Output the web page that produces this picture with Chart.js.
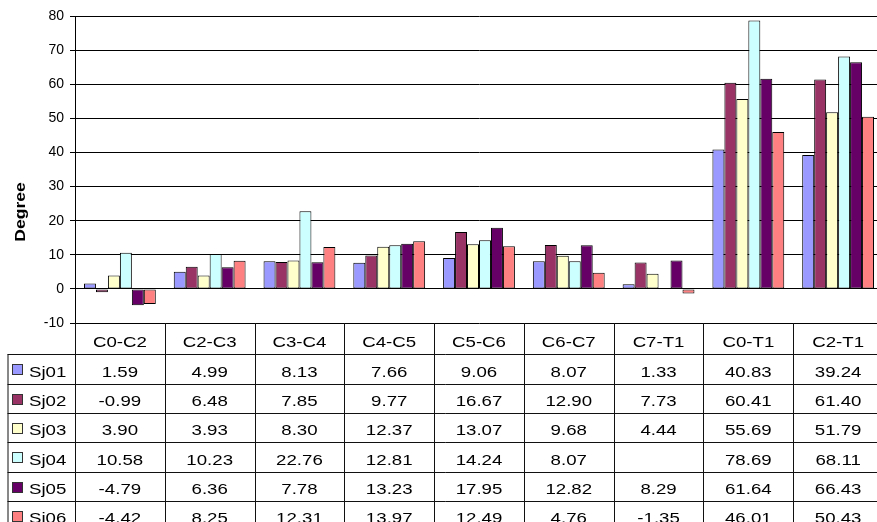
<!DOCTYPE html>
<html>
<head>
<meta charset="utf-8">
<script src="https://cdn.jsdelivr.net/npm/chart.js@4"></script>
<style>
  body { margin: 0; background: #fff; overflow: hidden; }
  #wrap { width: 877px; height: 522px; overflow: hidden; }
</style>
</head>
<body>
<div id="wrap"><canvas id="chart" width="885" height="522"></canvas></div>
<script>
const categories = ["C0-C2","C2-C3","C3-C4","C4-C5","C5-C6","C6-C7","C7-T1","C0-T1","C2-T1"];
const seriesNames = ["Sj01","Sj02","Sj03","Sj04","Sj05","Sj06"];
const sj01 = [1.59, 4.99, 8.13, 7.66, 9.06, 8.07, 1.33, 40.83, 39.24];
const sj02 = [-0.99, 6.48, 7.85, 9.77, 16.67, 12.90, 7.73, 60.41, 61.40];
const sj03 = [3.90, 3.93, 8.30, 12.37, 13.07, 9.68, 4.44, 55.69, 51.79];
const sj04 = [10.58, 10.23, 22.76, 12.81, 14.24, 8.07, null, 78.69, 68.11];
const sj05 = [-4.79, 6.36, 7.78, 13.23, 17.95, 12.82, 8.29, 61.64, 66.43];
const sj06 = [-4.42, 8.25, 12.31, 13.97, 12.49, 4.76, -1.35, 46.01, 50.43];
const colors = ["#9999FF","#993366","#FFFFCC","#CCFFFF","#660066","#FF8080"];
const yTicks = { min: -10, max: 80, step: 10 };

const allSeries = [sj01, sj02, sj03, sj04, sj05, sj06];

// data table + axis title drawn under the plot
const tablePlugin = {
  id: 'table',
  afterDraw(chart) {
    const ctx = chart.ctx;
    const xs = chart.scales.x;
    const left = xs.left, right = xs.right;
    const colW = (right - left) / categories.length;
    const top = chart.chartArea.bottom;
    const headH = 31.3, rowH = 29.3;
    const legLeft = 7.5;

    ctx.save();
    ctx.strokeStyle = '#111';
    ctx.lineWidth = 1;
    ctx.beginPath();
    // vertical lines
    for (let i = 0; i <= categories.length; i++) {
      const x = Math.round(left + i * colW) + 0.5;
      ctx.moveTo(x, top);
      ctx.lineTo(x, 530);
    }
    ctx.moveTo(legLeft + 0.5, top + headH);
    ctx.lineTo(legLeft + 0.5, 530);
    // horizontal lines
    for (let r = 0; r <= seriesNames.length; r++) {
      const y = Math.round(top + headH + r * rowH) + 0.5;
      ctx.moveTo(legLeft, y);
      ctx.lineTo(right, y);
    }
    ctx.stroke();

    const sx = 1.22;
    ctx.fillStyle = '#000';
    ctx.font = '15.3px "Liberation Sans", Arial, sans-serif';
    function txt(s, x, y, align) {
      ctx.save();
      ctx.translate(x, y);
      ctx.scale(sx, 1);
      ctx.textAlign = align || 'center';
      ctx.textBaseline = 'alphabetic';
      ctx.fillText(s, 0, 0);
      ctx.restore();
    }
    categories.forEach((c, i) => {
      txt(c, xs.getPixelForValue(i), top + 24);
    });
    allSeries.forEach((vals, r) => {
      const rt = top + headH + r * rowH;
      vals.forEach((v, i) => {
        if (v === null) return;
        txt(v.toFixed(2), xs.getPixelForValue(i), rt + 22.5);
      });
      // legend key
      ctx.fillStyle = colors[r];
      ctx.fillRect(12.5, Math.round(rt + 10) + 0.5, 10, 10);
      ctx.strokeStyle = '#333';
      ctx.strokeRect(12.5, Math.round(rt + 10) + 0.5, 10, 10);
      ctx.fillStyle = '#000';
      txt(seriesNames[r], 29, rt + 22.5, 'left');
    });

    // y axis title
    ctx.save();
    ctx.translate(24.5, 212);
    ctx.rotate(-Math.PI / 2);
    ctx.scale(1.25, 1);
    ctx.font = 'bold 14px "Liberation Sans", Arial, sans-serif';
    ctx.textAlign = 'center';
    ctx.fillText('Degree', 0, 0);
    ctx.restore();
    ctx.restore();
  }
};

new Chart("chart", {
  type: 'bar',
  data: {
    labels: categories,
    datasets: seriesNames.map((name, i) => ({
      label: name,
      data: allSeries[i],
      backgroundColor: colors[i],
      borderColor: '#000',
      borderWidth: 1,
      borderSkipped: false,
      barPercentage: 1,
      categoryPercentage: 0.8
    }))
  },
  options: {
    responsive: false,
    animation: false,
    layout: { padding: { top: 16, bottom: 199, left: 0, right: 2 } },
    plugins: { legend: { display: false }, tooltip: { enabled: false } },
    scales: {
      x: { display: false },
      y: {
        min: yTicks.min,
        max: yTicks.max,
        ticks: {
          stepSize: yTicks.step,
          color: '#000',
          padding: 6,
          font: { family: '"Liberation Sans", Arial, sans-serif', size: 14 }
        },
        grid: { color: '#000', tickLength: 5, tickColor: '#000' },
        border: { color: '#000' },
        afterFit: s => { s.width = 75; }
      }
    }
  },
  plugins: [tablePlugin]
});
</script>
</body>
</html>
